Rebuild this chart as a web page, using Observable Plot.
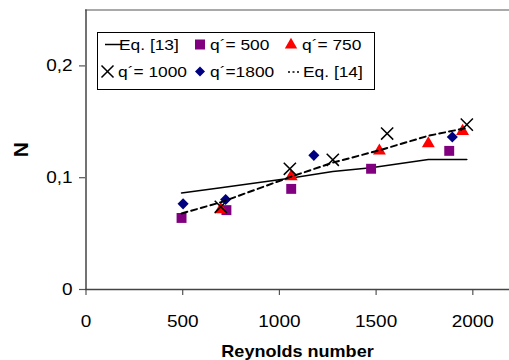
<!DOCTYPE html>
<html><head><meta charset="utf-8">
<script src="https://cdn.jsdelivr.net/npm/d3@7"></script>
<script src="https://cdn.jsdelivr.net/npm/@observablehq/plot@0.6"></script>
<style>
html,body{margin:0;padding:0;background:#fff;}
#chart{position:relative;width:509px;height:360px;overflow:hidden;font-family:"Liberation Sans",Arial,sans-serif;}
#legend{position:absolute;left:97px;top:32px;width:276px;height:56px;border:1px solid #000;background:#fff;}
#legend svg{position:absolute;left:0;top:0;}
.lt{position:absolute;font-size:15.5px;line-height:16px;transform-origin:left center;transform:scaleX(1.12);white-space:nowrap;color:#000;}
</style></head><body><div id="chart"></div>
<script>
// Data
const q500Re = [494, 726, 1061, 1474, 1878];
const q500N  = [0.064, 0.071, 0.09, 0.108, 0.124];
const q750Re = [697, 1061, 1517, 1770, 1947];
const q750N  = [0.0716, 0.101, 0.124, 0.1305, 0.1415];
const q1000Re = [697, 1054, 1276, 1557, 1969];
const q1000N  = [0.074, 0.108, 0.116, 0.1395, 0.1475];
const q1800Re = [502, 722, 1178, 1894];
const q1800N  = [0.0766, 0.0805, 0.12, 0.1364];
const eq13Re = [494, 697, 1054, 1276, 1474, 1770, 1969];
const eq13N  = [0.0864, 0.091, 0.0995, 0.1055, 0.109, 0.1162, 0.1162];
const eq14Re = [494, 697, 1054, 1276, 1517, 1770, 1969];
const eq14N  = [0.068, 0.078, 0.1005, 0.1135, 0.1245, 0.1375, 0.1445];
const xTicks = [0, 500, 1000, 1500, 2000];
const yTicks = [0, 0.1, 0.2];
const legendLabels = ["Eq. [13]", "q´= 500", "q´= 750", "q´= 1000", "q´=1800", "Eq. [14]"];

const toRows = (xs, ys) => xs.map((x, i) => ({re: x, n: ys[i]}));
const q500 = toRows(q500Re, q500N);
const q750 = toRows(q750Re, q750N);
const q1000 = toRows(q1000Re, q1000N);
const q1800 = toRows(q1800Re, q1800N);
const eq13 = toRows(eq13Re, eq13N);
const eq14 = toRows(eq14Re, eq14N);

const plot = Plot.plot({
  width: 509, height: 360,
  marginLeft: 85, marginRight: 0, marginTop: 9.5, marginBottom: 71,
  style: {fontFamily: "Liberation Sans, Arial, sans-serif", fontSize: "16.5px", background: "white", overflow: "visible", color: "#000"},
  x: {domain: [0, 2200], range: [85.5, 511]},
  y: {domain: [0, 0.25], range: [289, 9.5]},
  marks: [
    Plot.ruleY([0.25], {stroke: "#8c8c8c", strokeWidth: 1.5}),
    Plot.axisX({ticks: xTicks, tickSize: 6, tickPadding: 20, stroke: "#555", strokeWidth: 1.2, fill: "#000",
      tickFormat: d => String(d),
      label: "Reynolds number", labelAnchor: "center", labelOffset: 67, labelArrow: "none"}),
    Plot.axisY({ticks: yTicks, tickSize: 6, tickPadding: 7, stroke: "#555", strokeWidth: 1.2, fill: "#000",
      tickFormat: d => d === 0 ? "0" : String(d).replace(".", ","),
      label: "N", labelAnchor: "center", labelOffset: 72, labelArrow: "none"}),
    Plot.ruleX([0], {stroke: "#444", strokeWidth: 1.5}),
    Plot.ruleY([0], {stroke: "#444", strokeWidth: 1.5}),
    Plot.line(eq13, {x: "re", y: "n", stroke: "black", strokeWidth: 1.5}),
    Plot.dot(q500, {x: "re", y: "n", symbol: "square", fill: "#800080", r: 5.6}),
    Plot.dot(q750, {x: "re", y: "n", symbol: "triangle", fill: "#ff0000", r: 4.8}),
    Plot.dot(q1000, {x: "re", y: "n", symbol: "times", stroke: "black", strokeWidth: 1.5, r: 5.6}),
    Plot.dot(q1800, {x: "re", y: "n", symbol: "diamond2", fill: "#000080", r: 5}),
    Plot.line(eq14, {x: "re", y: "n", stroke: "black", strokeWidth: 2, strokeDasharray: "6,4"})
  ]
});
const chart = document.getElementById("chart");
chart.appendChild(plot);

// bold axis labels, horizontally stretched text like the reference
plot.querySelectorAll('[aria-label="x-axis label"] text, [aria-label="y-axis label"] text').forEach(t => {
  t.style.fontWeight = "bold";
});
plot.querySelectorAll('[aria-label="x-axis label"] text').forEach(t => { t.style.fontSize = "15.7px"; });
plot.querySelectorAll('[aria-label="y-axis label"] text').forEach(t => { t.style.fontSize = "21px"; });
plot.querySelectorAll("text").forEach(t => {
  const tr = t.getAttribute("transform");
  if (tr && !tr.includes("rotate")) t.setAttribute("transform", tr + " scale(1.15,1)");
});

// legend
const lg = document.createElement("div");
lg.id = "legend";
chart.appendChild(lg);
const ls = d3.select(lg).append("svg").attr("width", 276).attr("height", 56);
ls.append("line").attr("x1", 7).attr("x2", 24).attr("y1", 11.5).attr("y2", 11.5).attr("stroke", "#000").attr("stroke-width", 1.5);
ls.append("path").attr("d", d3.symbol(d3.symbolSquare, 100)()).attr("transform", "translate(102,11.5)").attr("fill", "#800080");
ls.append("path").attr("d", d3.symbol(d3.symbolTriangle, 66)()).attr("transform", "translate(193,12)").attr("fill", "#ff0000");
ls.append("path").attr("d", d3.symbol(d3.symbolTimes, 96)()).attr("transform", "translate(9.5,38.5)").attr("stroke", "#000").attr("stroke-width", 1.5).attr("fill", "none");
ls.append("path").attr("d", d3.symbol(d3.symbolDiamond2, 64)()).attr("transform", "translate(102,38.5)").attr("fill", "#000080");
ls.append("line").attr("x1", 190).attr("x2", 202).attr("y1", 39).attr("y2", 39).attr("stroke", "#000").attr("stroke-width", 1.5).attr("stroke-dasharray", "2,2.5");
const pos = [[21, 11.5], [112, 11.5], [204, 11.5], [19.5, 38.5], [112, 38.5], [204.5, 38.5]];
legendLabels.forEach((s, i) => {
  const d = document.createElement("div");
  d.className = "lt";
  d.textContent = s;
  d.style.left = pos[i][0] + "px";
  d.style.top = (pos[i][1] - 8) + "px";
  lg.appendChild(d);
});
</script></body></html>
